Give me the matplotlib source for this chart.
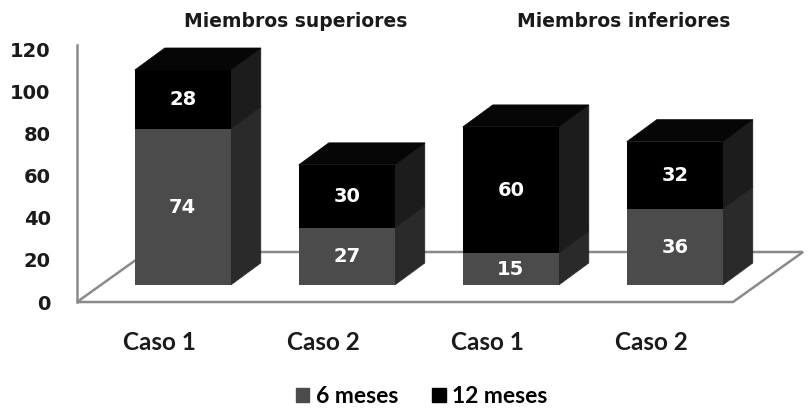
import matplotlib
matplotlib.use('Agg')
import matplotlib.pyplot as plt
from matplotlib.patches import Polygon, Patch
import numpy as np

groups = ['Miembros superiores', 'Miembros inferiores']
categories = ['Caso 1', 'Caso 2', 'Caso 1', 'Caso 2']
series_names = ['6 meses', '12 meses']
meses6 = [74, 27, 15, 36]
meses12 = [28, 30, 60, 32]
yticks = [0, 20, 40, 60, 80, 100, 120]

W, H = 811, 411
fig = plt.figure(figsize=(W / 100, H / 100), dpi=100)
fig.patch.set_facecolor('white')

py = 2.108      # px per value unit
pc = 164        # px per category
x0px, y0px = 77, 109
ymax = 143
xmax = (W - x0px) / pc
ax = fig.add_axes([x0px / W, y0px / H, xmax * pc / W, ymax * py / H])
ax.set_xlim(0, xmax)
ax.set_ylim(0, ymax)
ax.patch.set_alpha(0)

# depth geometry (in data units)
DXf, DYf = 70 / pc, 50 / py          # floor depth
ox, oy = 0.34 * DXf, 0.34 * DYf      # bar front offset
dx, dy = 30 / pc, 22 / py            # bar depth
bw = 96 / pc

gray_front, gray_side = '#4b4b4b', '#2a2a2a'
blk_front, blk_side, blk_top = '#000000', '#1c1c1c', '#060606'
line_c = '#8a8a8a'
txt_c = '#1a1a1a'

n = len(categories)
floor = Polygon([(0, 0), (n, 0), (n + DXf, DYf), (DXf, DYf)], closed=True,
                facecolor='white', edgecolor=line_c, lw=1.8, zorder=1, clip_on=False)
ax.add_patch(floor)

xc = np.arange(n) + 0.5 + ox
m6 = np.array(meses6)
m12 = np.array(meses12)
ax.bar(xc, m6, bottom=oy, width=bw, color=gray_front, zorder=3)
ax.bar(xc, m12, bottom=oy + m6, width=bw, color=blk_front, zorder=3)

for i in range(n):
    l, r = xc[i] - bw / 2, xc[i] + bw / 2
    segs = [(oy, oy + m6[i], gray_side), (oy + m6[i], oy + m6[i] + m12[i], blk_side)]
    for b, t, c in segs:
        ax.add_patch(Polygon([(r, b), (r + dx, b + dy), (r + dx, t + dy), (r, t)],
                             closed=True, facecolor=c, edgecolor=c, lw=0.5, zorder=2.9))
    t = oy + m6[i] + m12[i]
    ax.add_patch(Polygon([(l, t), (r, t), (r + dx, t + dy), (l + dx, t + dy)],
                         closed=True, facecolor=blk_top, edgecolor=blk_top, lw=0.5, zorder=2.9))
    ax.text(xc[i], oy + m6[i] / 2, str(m6[i]), color='white', fontsize=14,
            fontweight='bold', ha='center', va='center', zorder=5)
    ax.text(xc[i], oy + m6[i] + m12[i] / 2, str(m12[i]), color='white', fontsize=14,
            fontweight='bold', ha='center', va='center', zorder=5)

# group titles
for g, name in enumerate(groups):
    gx = (xc[2 * g] + xc[2 * g + 1]) / 2 + 0.19
    ax.text(gx, 133, name, fontsize=13.5, fontweight='bold', color=txt_c,
            ha='center', va='center')

# axes styling
for s in ['top', 'right', 'bottom']:
    ax.spines[s].set_visible(False)
ax.spines['left'].set_color(line_c)
ax.spines['left'].set_linewidth(1.8)
ax.spines['left'].set_bounds(0, 122)
ax.set_yticks(yticks)
ax.set_yticklabels([str(v) for v in yticks], fontsize=14, fontweight='bold', color=txt_c)
ax.tick_params(axis='y', length=0, pad=19)
ax.set_xticks(np.arange(n) + 0.5)
ax.set_xticklabels(categories, fontsize=17.5, fontweight='bold', family='Lato', color=txt_c)
ax.tick_params(axis='x', length=0, pad=21)

handles = [Patch(facecolor=gray_front, edgecolor=gray_front),
           Patch(facecolor=blk_front, edgecolor=blk_front)]
fig.legend(handles, series_names, loc='center', bbox_to_anchor=(0.52, 0.035), ncol=2,
           frameon=False, handlelength=0.6, handleheight=0.6, handletextpad=0.27,
           columnspacing=1.5, prop={'family': 'Lato', 'size': 16.5, 'weight': 'bold'})

fig.savefig('out.png', dpi=100)
